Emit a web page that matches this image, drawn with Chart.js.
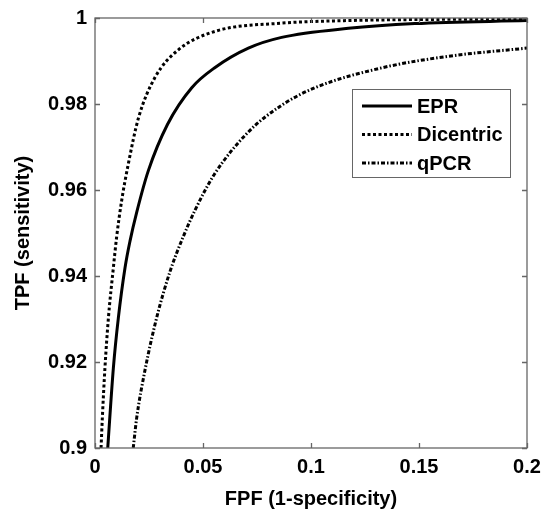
<!DOCTYPE html>
<html>
<head>
<meta charset="utf-8">
<script src="https://cdn.jsdelivr.net/npm/chart.js@4.4.1/dist/chart.umd.min.js"></script>
<style>
  html, body { margin: 0; padding: 0; background: #fff; }
  #wrap { width: 542px; height: 511px; }
</style>
</head>
<body>
<div id="wrap"><canvas id="rocChart" width="542" height="511"></canvas></div>
<script>
// ROC curves: FPF (x) against TPF (y)
const seriesNames = ['EPR', 'Dicentric', 'qPCR'];

const eprFpf = [0.0059, 0.0085, 0.0108, 0.0139, 0.0162, 0.0193, 0.0247, 0.0336, 0.0448, 0.0556, 0.0710, 0.0864, 0.1173, 0.1481, 0.2];
const eprTpf = [0.900, 0.9186, 0.9302, 0.9419, 0.9481, 0.9548, 0.9645, 0.9753, 0.9838, 0.9885, 0.9930, 0.9955, 0.9976, 0.9987, 0.9994];

const dicFpf = [0.0028, 0.0034, 0.0046, 0.0062, 0.0085, 0.0100, 0.0123, 0.0154, 0.0201, 0.0278, 0.0386, 0.0556, 0.0864, 0.117, 0.2];
const dicTpf = [0.900, 0.907, 0.9186, 0.9302, 0.9419, 0.9490, 0.9574, 0.9660, 0.9767, 0.9862, 0.9926, 0.9969, 0.9988, 0.9994, 0.9998];

const qpcrFpf = [0.0177, 0.0193, 0.0231, 0.0285, 0.0347, 0.0409, 0.0463, 0.0552, 0.0710, 0.0864, 0.1019, 0.1327, 0.1636, 0.2];
const qpcrTpf = [0.900, 0.907, 0.9180, 0.9302, 0.9410, 0.9492, 0.9553, 0.9636, 0.9735, 0.9797, 0.9838, 0.9884, 0.9911, 0.9930];

const xTickValues = [0, 0.05, 0.1, 0.15, 0.2];
const xTickLabels = ['0', '0.05', '0.1', '0.15', '0.2'];
const yTickValues = [0.9, 0.92, 0.94, 0.96, 0.98, 1];
const yTickLabels = ['0.9', '0.92', '0.94', '0.96', '0.98', '1'];

const FONT = '"Liberation Sans", Arial, sans-serif';
const frameColor = '#666';

function toPoints(xs, ys) {
    return xs.map((x, i) => ({x: x, y: ys[i]}));
}

// MATLAB style box with inward ticks on all four sides
const boxPlugin = {
    id: 'box',
    afterDatasetsDraw(chart) {
        const ctx = chart.ctx;
        const a = chart.chartArea;
        const xs = chart.scales.x, ys = chart.scales.y;
        const len = 5;
        ctx.save();
        ctx.strokeStyle = frameColor;
        ctx.lineWidth = 1.3;
        ctx.beginPath();
        xTickValues.forEach(v => {
            const px = Math.round(xs.getPixelForValue(v)) + 0.5;
            ctx.moveTo(px, a.bottom); ctx.lineTo(px, a.bottom - len);
            ctx.moveTo(px, a.top); ctx.lineTo(px, a.top + len);
        });
        yTickValues.forEach(v => {
            const py = Math.round(ys.getPixelForValue(v)) + 0.5;
            ctx.moveTo(a.left, py); ctx.lineTo(a.left + len, py);
            ctx.moveTo(a.right, py); ctx.lineTo(a.right - len, py);
        });
        ctx.stroke();
        ctx.strokeRect(a.left, a.top, a.right - a.left, a.bottom - a.top);
        ctx.restore();
    }
};

// legend drawn inside the axes, upper right
const legendPlugin = {
    id: 'innerLegend',
    afterDraw(chart) {
        const ctx = chart.ctx;
        const a = chart.chartArea;
        const w = 158, h = 88;
        const left = a.right - 17 - w;
        const top = a.top + 71;
        ctx.save();
        ctx.fillStyle = '#fff';
        ctx.fillRect(left, top, w, h);
        ctx.strokeStyle = frameColor;
        ctx.lineWidth = 1;
        ctx.strokeRect(left + 0.5, top + 0.5, w, h);
        ctx.font = 'bold 20px ' + FONT;
        ctx.textBaseline = 'middle';
        chart.data.datasets.forEach((ds, i) => {
            const y = top + 17 + i * 28.5;
            ctx.strokeStyle = ds.borderColor;
            ctx.lineWidth = ds.borderWidth;
            ctx.setLineDash(ds.borderDash || []);
            ctx.beginPath();
            ctx.moveTo(left + 10, y);
            ctx.lineTo(left + 60, y);
            ctx.stroke();
            ctx.setLineDash([]);
            ctx.fillStyle = '#000';
            ctx.fillText(ds.label, left + 65, y + 1);
        });
        ctx.restore();
    }
};

document.addEventListener('DOMContentLoaded', function() {
    const ctx = document.getElementById('rocChart').getContext('2d');
    window.rocChart = new Chart(ctx, {
        type: 'line',
        data: {
            datasets: [{
                label: seriesNames[0],
                data: toPoints(eprFpf, eprTpf),
                borderColor: '#000',
                borderWidth: 3,
                pointRadius: 0,
                cubicInterpolationMode: 'monotone'
            }, {
                label: seriesNames[1],
                data: toPoints(dicFpf, dicTpf),
                borderColor: '#000',
                borderWidth: 3,
                borderDash: [3, 2.5],
                pointRadius: 0,
                cubicInterpolationMode: 'monotone'
            }, {
                label: seriesNames[2],
                data: toPoints(qpcrFpf, qpcrTpf),
                borderColor: '#000',
                borderWidth: 3,
                borderDash: [4, 2, 1.5, 2],
                pointRadius: 0,
                cubicInterpolationMode: 'monotone'
            }]
        },
        options: {
            responsive: false,
            animation: false,
            layout: {padding: {top: 18, right: 15, left: 0, bottom: 0}},
            plugins: {legend: {display: false}, tooltip: {enabled: false}},
            scales: {
                x: {
                    type: 'linear',
                    min: 0,
                    max: 0.2,
                    afterBuildTicks: s => { s.ticks = xTickValues.map(v => ({value: v})); },
                    afterFit: s => { s.height = 63; s.paddingLeft = 0; s.paddingRight = 0; },
                    grid: {display: false, drawTicks: false},
                    border: {display: false},
                    ticks: {
                        padding: 7,
                        color: '#000',
                        font: {family: FONT, size: 20, weight: 'bold'},
                        maxRotation: 0,
                        callback: (v, i) => xTickLabels[i]
                    },
                    title: {
                        display: true,
                        text: 'FPF (1-specificity)',
                        color: '#000',
                        padding: {top: 0, bottom: 0},
                        font: {family: FONT, size: 20, weight: 'bold'}
                    }
                },
                y: {
                    min: 0.9,
                    max: 1,
                    afterBuildTicks: s => { s.ticks = yTickValues.map(v => ({value: v})); },
                    afterFit: s => { s.width = 95; s.paddingTop = 0; s.paddingBottom = 0; },
                    grid: {display: false, drawTicks: false},
                    border: {display: false},
                    ticks: {
                        padding: 8,
                        color: '#000',
                        font: {family: FONT, size: 20, weight: 'bold'},
                        callback: (v, i) => yTickLabels[i]
                    },
                    title: {
                        display: true,
                        text: 'TPF (sensitivity)',
                        color: '#000',
                        padding: {top: 11, bottom: 0},
                        font: {family: FONT, size: 20, weight: 'bold'}
                    }
                }
            }
        },
        plugins: [boxPlugin, legendPlugin]
    });
});
</script>
</body>
</html>
